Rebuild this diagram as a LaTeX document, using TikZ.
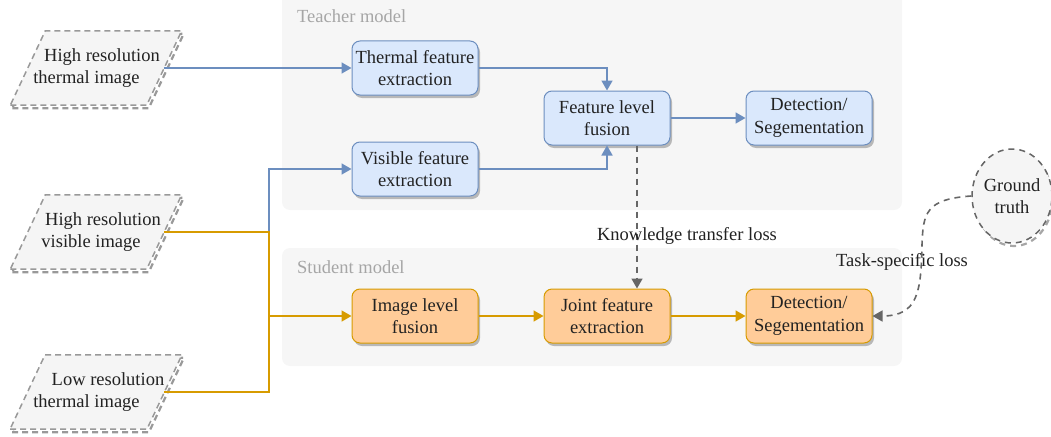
\documentclass[tikz,border=0pt]{standalone}
\usepackage{fontspec}
\setmainfont{Liberation Serif}
\usetikzlibrary{arrows.meta,shapes.geometric,shadows,calc}
\definecolor{bfill}{HTML}{DAE8FC}
\definecolor{bline}{HTML}{6C8EBF}
\definecolor{ofill}{HTML}{FFCC99}
\definecolor{oline}{HTML}{D79B00}
\definecolor{gline}{HTML}{666666}
\definecolor{pfill}{HTML}{F5F5F5}
\definecolor{pline}{HTML}{999999}
\definecolor{txt}{HTML}{222222}
\definecolor{lbl}{HTML}{A6A6A6}
\definecolor{panelA}{HTML}{F6F6F6}
\pgfdeclarelayer{background}
\pgfsetlayers{background,main}
\newcommand\myparapath[3]{($(#1.south west)+(-17.5+#2,#3)$) -- ($(#1.south east)+(-17.5+#2,#3)$) -- ($(#1.north east)+(17.5+#2,#3)$) -- ($(#1.north west)+(17.5+#2,#3)$) -- cycle}
\begin{document}
\begin{tikzpicture}[x=1pt,y=-1pt,
  every node/.style={font=\fontsize{18.5}{22.5}\selectfont, text=txt},
  box/.style={rectangle, rounded corners=8pt, minimum width=126pt, minimum height=54pt,
    line width=1pt, align=center, inner sep=0pt,
    drop shadow={shadow xshift=2pt, shadow yshift=-3pt, fill=black!28, opacity=1}},
  bbox/.style={box, fill=bfill, draw=bline},
  obox/.style={box, fill=ofill, draw=oline},
  parabox/.style={rectangle, minimum width=136pt, minimum height=74pt, inner sep=0pt, align=center},
  panel/.style={rounded corners=8pt, fill=panelA},
  plabel/.style={anchor=west, inner sep=0pt, text=lbl},
  barrow/.style={draw=bline, line width=1.6pt, -{Triangle[length=10pt,width=11pt]}},
  oarrow/.style={draw=oline, line width=1.6pt, -{Triangle[length=10pt,width=11pt]}},
  oconn/.style={draw=oline, line width=1.6pt},
  garrow/.style={draw=gline, line width=1.6pt, dash pattern=on 6pt off 5pt, -{Triangle[length=10pt,width=11pt]}},
  lossl/.style={inner sep=0pt},
]
\useasboundingbox (0,0) rectangle (1051,436);

% panels
\fill[panel] (282,-12) rectangle (902,210);
\fill[panel] (282,248) rectangle (902,366);
\node[plabel] (tlab) at (297,16) {Teacher model};
\node[plabel] (slab) at (297,267) {Student model};

% input parallelograms
\node[parabox] (p1) at (96,68) {\hspace*{12pt}High resolution\\thermal image\hspace*{19pt}};
\node[parabox] (p2) at (96,232) {\hspace*{14pt}High resolution\\visible image\hspace*{10pt}};
\node[parabox] (p3) at (96,392) {\hspace*{24pt}Low resolution\\thermal image\hspace*{19pt}};
\begin{pgfonlayer}{background}
\foreach \n in {p1,p2,p3}{
  \draw[draw=black!40, line width=2.2pt, dash pattern=on 6pt off 4pt] \myparapath{\n}{2}{3};
  \draw[fill=pfill, draw=pline, line width=1.5pt, dash pattern=on 6pt off 4pt] \myparapath{\n}{0}{0};
}
\end{pgfonlayer}

% teacher boxes
\node[bbox] (therm) at (415,68) {Thermal feature\\extraction};
\node[bbox] (vis) at (415,169) {Visible feature\\extraction};
\node[bbox] (fus) at (607,118) {Feature level\\fusion};
\node[bbox] (tdet) at (809,118) {Detection/\\Segementation};

% student boxes
\node[obox] (img) at (415,316) {Image level\\fusion};
\node[obox] (joint) at (607,316) {Joint feature\\extraction};
\node[obox] (sdet) at (809,316) {Detection/\\Segementation};

% ground truth
\node[ellipse, minimum width=77pt, minimum height=94pt, inner sep=0pt, align=center,
  fill=pfill, draw=gline, line width=1.5pt, dash pattern=on 6pt off 5pt]
  (gt) at (1012,196) {Ground\\truth};
\begin{pgfonlayer}{background}
  \draw[draw=black!35, line width=2.2pt, dash pattern=on 6pt off 5pt]
    ($(gt.center)+(2,3)$) ellipse [x radius=38.5pt, y radius=47pt];
\end{pgfonlayer}

\coordinate (j) at (269,232);

% teacher connectors
\draw[barrow] (p1.east) -- (therm.west);
\draw[barrow] (j) |- (vis.west);
\draw[barrow] (therm.east) -| (fus.north);
\draw[barrow] (vis.east) -| (fus.south);
\draw[barrow] (fus.east) -- (tdet.west);

% student connectors
\draw[oconn] (p2.east) -- (j) |- (p3.east);
\draw[oarrow] (j |- img.west) -- (img.west);
\draw[oarrow] (img.east) -- (joint.west);
\draw[oarrow] (joint.east) -- (sdet.west);

% losses
\draw[garrow] ([xshift=30pt]fus.south) -- ([xshift=30pt]joint.north);
\node[lossl] (klab) at (687,236) {Knowledge transfer loss};
\draw[garrow] (gt.west) .. controls (926,199) and (923,213) .. (922,245)
  .. controls (921,292) and (918,316) .. (sdet.east);
\node[lossl] (tlabel) at (902,262) {Task-specific loss};
\end{tikzpicture}
\end{document}
